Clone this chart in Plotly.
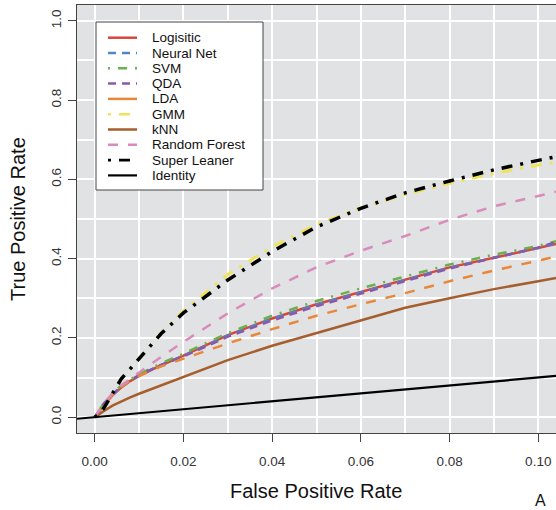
import plotly.graph_objects as go

# ---------------- data ----------------
fpr = [0, 0.001, 0.002, 0.004, 0.006, 0.008, 0.01, 0.015, 0.02, 0.03, 0.04,
       0.05, 0.06, 0.07, 0.08, 0.09, 0.10, 0.104]

tpr_logistic = [0, 0.016, 0.030, 0.055, 0.075, 0.091, 0.104, 0.131, 0.155, 0.207,
                0.249, 0.285, 0.316, 0.346, 0.378, 0.402, 0.426, 0.437]
tpr_nnet = [0, 0.016, 0.031, 0.056, 0.076, 0.092, 0.105, 0.132, 0.155, 0.206,
            0.248, 0.284, 0.315, 0.345, 0.377, 0.402, 0.427, 0.439]
tpr_svm = [0, 0.018, 0.034, 0.060, 0.080, 0.095, 0.108, 0.136, 0.160, 0.212,
           0.256, 0.293, 0.325, 0.355, 0.385, 0.410, 0.432, 0.444]
tpr_qda = [0, 0.017, 0.033, 0.058, 0.078, 0.093, 0.106, 0.132, 0.153, 0.203,
           0.244, 0.280, 0.311, 0.342, 0.375, 0.402, 0.428, 0.442]
tpr_lda = [0, 0.016, 0.031, 0.056, 0.076, 0.092, 0.104, 0.128, 0.147, 0.186,
           0.222, 0.256, 0.285, 0.313, 0.343, 0.370, 0.395, 0.405]
tpr_gmm = [0, 0.008, 0.022, 0.060, 0.097, 0.122, 0.148, 0.212, 0.268, 0.360,
           0.430, 0.486, 0.528, 0.562, 0.590, 0.615, 0.636, 0.643]
tpr_knn = [0, 0.008, 0.015, 0.029, 0.040, 0.050, 0.059, 0.080, 0.100, 0.144,
           0.180, 0.212, 0.245, 0.276, 0.300, 0.323, 0.343, 0.351]
tpr_rf = [0, 0.018, 0.034, 0.060, 0.080, 0.097, 0.113, 0.152, 0.190, 0.262,
          0.325, 0.378, 0.420, 0.457, 0.498, 0.532, 0.558, 0.569]
tpr_sl = [0, 0.008, 0.022, 0.060, 0.097, 0.122, 0.148, 0.211, 0.263, 0.346,
          0.418, 0.480, 0.527, 0.566, 0.596, 0.624, 0.648, 0.657]

x_range = [-0.004, 0.104]
y_range = [-0.04, 1.04]
x_ticks = [0.00, 0.02, 0.04, 0.06, 0.08, 0.10]
y_ticks = [0.0, 0.2, 0.4, 0.6, 0.8, 1.0]

models = ["Logisitic", "Neural Net", "SVM", "QDA", "LDA", "GMM", "kNN",
          "Random Forest", "Super Leaner", "Identity"]
series = [tpr_logistic, tpr_nnet, tpr_svm, tpr_qda, tpr_lda, tpr_gmm, tpr_knn,
          tpr_rf, tpr_sl, None]

# ---------------- styles ----------------
colors = ["#D9453B", "#4F86C6", "#6AB04C", "#8A5AA8", "#E8873A", "#F0E35A",
          "#A65E2E", "#D98BBB", "#000000", "#000000"]
dashes = ["solid", "8px,6px", "2px,8px,9px,8px", "8px,6px", "10px,10px",
          "3px,8px,11px,8px", "solid", "10px,10px", "3px,8px,11px,8px", "solid"]
widths = [2.5, 2.5, 2.5, 2.5, 2.5, 3, 2.5, 2.5, 3.5, 2.2]
legend_dashes = list(dashes)
legend_dashes[4] = "solid"   # legend shows LDA as solid

FONT = "Liberation Sans, Arial, Helvetica, sans-serif"

fig = go.Figure()
for name, y, c, d, w in zip(models, series, colors, dashes, widths):
    if y is None:
        xs = x_range
        ys = x_range
    else:
        xs = fpr
        ys = y
    fig.add_trace(go.Scatter(x=xs, y=ys, mode="lines", name=name,
                             line=dict(color=c, dash=d, width=w),
                             showlegend=False, hoverinfo="skip"))

# ---------------- layout ----------------
W, H = 556, 510
L, R, T, B = 77, 0, 5, 77
pw, ph = W - L - R, H - T - B


def px(xp):
    return (xp - L) / pw


def py(yp):
    return (H - B - yp) / ph


shapes = []
annotations = []

# custom legend (R style)
shapes.append(dict(type="rect", xref="paper", yref="paper",
                   x0=px(96), x1=px(263), y0=py(190), y1=py(22),
                   line=dict(color="#444444", width=1), fillcolor="white",
                   layer="above"))
row0, step = 37.7, 15.3
for i, name in enumerate(models):
    yy = py(row0 + i * step)
    shapes.append(dict(type="line", xref="paper", yref="paper",
                       x0=px(108), x1=px(137), y0=yy, y1=yy,
                       line=dict(color=colors[i], dash=legend_dashes[i],
                                 width=min(widths[i], 2.6)),
                       layer="above"))
    annotations.append(dict(text=name, xref="paper", yref="paper",
                            x=px(150), y=yy, xanchor="left", yanchor="middle",
                            showarrow=False,
                            font=dict(family=FONT, size=13.5, color="#111111")))

annotations.append(dict(text="False Positive Rate", xref="paper", yref="paper",
                        x=px(316), y=py(491), xanchor="center", yanchor="middle",
                        showarrow=False,
                        font=dict(family=FONT, size=20, color="#111111")))
annotations.append(dict(text="True Positive Rate", xref="paper", yref="paper",
                        x=px(18), y=py(219), xanchor="center", yanchor="middle",
                        textangle=-90, showarrow=False,
                        font=dict(family=FONT, size=20, color="#111111")))
annotations.append(dict(text="A", xref="paper", yref="paper",
                        x=px(540), y=py(510), xanchor="center", yanchor="bottom",
                        showarrow=False, borderpad=0,
                        font=dict(family=FONT, size=16, color="#111111")))

fig.update_layout(
    width=W, height=H,
    margin=dict(l=L, r=R, t=T, b=B, pad=0),
    paper_bgcolor="white",
    plot_bgcolor="#E1E2E4",
    showlegend=False,
    shapes=shapes,
    annotations=annotations,
    font=dict(family=FONT, size=13.5, color="#333333"),
)
fig.update_xaxes(
    range=x_range, tickvals=x_ticks, tickformat=".2f",
    showgrid=True, gridcolor="white", gridwidth=1.5,
    minor=dict(dtick=0.01, tick0=0, showgrid=True, gridcolor="white",
               gridwidth=1.5, ticklen=0),
    zeroline=False, showline=True, mirror=True, linecolor="#444444",
    linewidth=1, ticks="outside", ticklen=8, tickcolor="#444444",
    ticklabelstandoff=8,
    tickfont=dict(family=FONT, size=13.5, color="#333333"),
)
fig.update_yaxes(
    range=y_range, tickvals=y_ticks, tickformat=".1f", tickangle=-90,
    showgrid=True, gridcolor="white", gridwidth=1.5,
    minor=dict(dtick=0.1, tick0=0, showgrid=True, gridcolor="white",
               gridwidth=1.5, ticklen=0),
    zeroline=False, showline=True, mirror=False, linecolor="#444444",
    linewidth=1, ticks="outside", ticklen=8, tickcolor="#444444",
    ticklabelstandoff=2,
    tickfont=dict(family=FONT, size=13.5, color="#333333"),
)

fig.write_html("out.html")
